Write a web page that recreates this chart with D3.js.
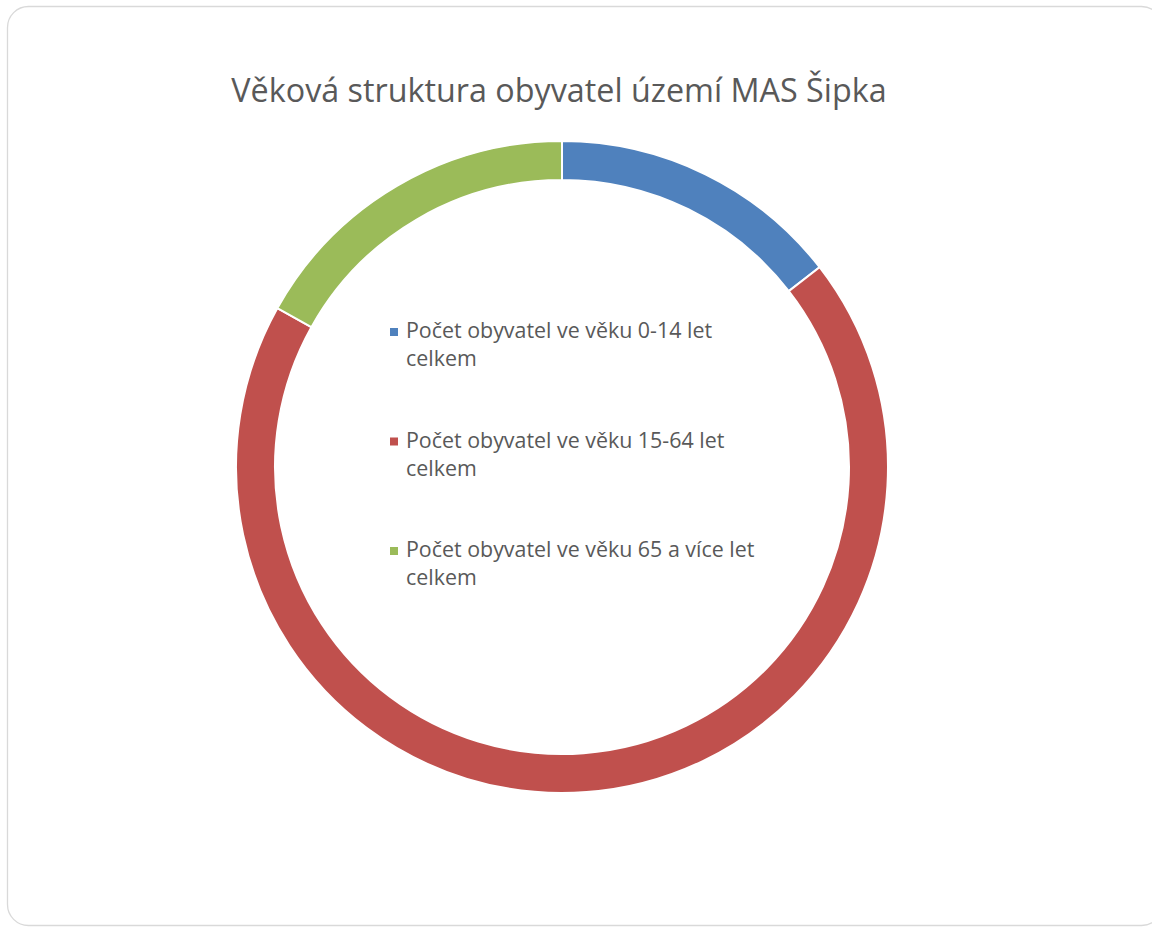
<!DOCTYPE html>
<html>
<head>
<meta charset="utf-8">
<script src="https://cdn.jsdelivr.net/npm/d3@7"></script>
<style>
  body { margin: 0; background: #fff; }
  svg { display: block; }
</style>
</head>
<body>
<svg id="chart" width="1152" height="927"></svg>
<script>
var categories = [
  ["Počet obyvatel ve věku 0-14 let", "celkem"],
  ["Počet obyvatel ve věku 15-64 let", "celkem"],
  ["Počet obyvatel ve věku 65 a více let", "celkem"]
];
var values = [14.5, 68.6, 16.9];
var colors = ["#4f81bd", "#c0504d", "#9bbb59"];
var title = "Věková struktura obyvatel území MAS Šipka";

var svg = d3.select("#chart"),
  width = +svg.attr("width"),
  height = +svg.attr("height");

// chart frame
svg.append("rect")
  .attr("x", 7.5).attr("y", 6.5)
  .attr("width", 1155).attr("height", 919)
  .attr("rx", 21).attr("ry", 21)
  .attr("fill", "#fff")
  .attr("stroke", "#d9d9d9")
  .attr("stroke-width", 1.3);

// title
svg.append("text")
  .attr("x", 559).attr("y", 102)
  .attr("text-anchor", "middle")
  .style("font-family", "'Open Sans', sans-serif")
  .style("font-size", "32.3px")
  .style("fill", "#595959")
  .text(title);

// donut
var cx = 562, cy = 467;
var pie = d3.pie().sort(null).value(function(d) { return d; });
var arc = d3.arc().innerRadius(287).outerRadius(326);

var g = svg.append("g").attr("transform", "translate(" + cx + "," + cy + ")");
g.selectAll("path")
  .data(pie(values))
  .enter()
  .append("path")
  .attr("d", arc)
  .attr("fill", function(d, i) { return colors[i]; })
  .attr("stroke", "#fff")
  .attr("stroke-width", 2);

// legend
var legend = svg.append("g").attr("transform", "translate(390,0)");
var legendY = d3.scalePoint().domain(d3.range(categories.length)).range([338, 557]);

var item = legend.selectAll("g")
  .data(categories)
  .enter()
  .append("g")
  .attr("transform", function(d, i) { return "translate(0," + legendY(i) + ")"; });

item.append("rect")
  .attr("x", 0).attr("y", -10)
  .attr("width", 8).attr("height", 8)
  .attr("fill", function(d, i) { return colors[i]; });

item.append("text")
  .attr("x", 16)
  .style("font-family", "'Open Sans', sans-serif")
  .style("font-size", "21.4px")
  .style("fill", "#595959")
  .selectAll("tspan")
  .data(function(d) { return d; })
  .enter()
  .append("tspan")
  .attr("x", 16)
  .attr("dy", function(d, j) { return j === 0 ? 0 : 28; })
  .text(function(d) { return d; });
</script>
</body>
</html>
